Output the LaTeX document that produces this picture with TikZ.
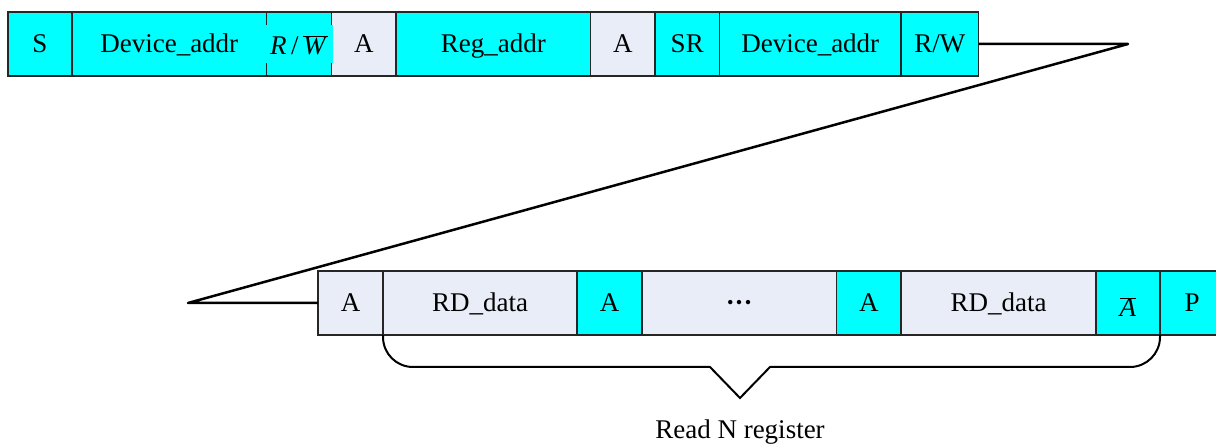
\documentclass[tikz,border=0pt]{standalone}
\usepackage{fontspec}
\setmainfont{Liberation Serif}
\definecolor{cyanc}{RGB}{0,255,255}
\definecolor{lightc}{RGB}{232,237,247}
\tikzset{
  txt/.style={font=\fontsize{27}{31}\selectfont},
  cell/.style={draw=black!85, line width=1.2pt, inner sep=0pt, outer sep=0pt,
    minimum height=64pt, txt, text height=18pt, text depth=0pt},
  cy/.style={cell, fill=cyanc},
  lt/.style={cell, fill=lightc},
  conn/.style={line width=2.5pt, line join=round},
  bracel/.style={line width=2pt, line join=miter}
}
\newcommand{\mkcell}[6]{%
  \pgfmathsetmacro{\cw}{#3-#2}%
  \pgfmathsetmacro{\cx}{(#2+#3)/2}%
  \node[#5, minimum width=\cw pt] (#1) at (\cx,#4) {#6};}
\begin{document}
\begin{tikzpicture}[x=1pt,y=-1pt]
\useasboundingbox (0,0) rectangle (1216,446);
% top row
\mkcell{s}{8}{72}{44}{cy}{S}
\mkcell{dev1}{72}{266.5}{44}{cy}{Device\_addr}
\mkcell{rwbar}{266.5}{331.5}{44}{cy}{}
\mkcell{a1}{331.5}{396}{44}{lt}{A}
\mkcell{reg}{396}{590.5}{44}{cy}{Reg\_addr}
\mkcell{a2}{590.5}{655}{44}{lt}{A}
\mkcell{sr}{655}{719.5}{44}{cy}{SR}
\mkcell{dev2}{719.5}{901}{44}{cy}{Device\_addr}
\mkcell{rw}{901}{978.5}{44}{cy}{R/W}
\node[fill=cyanc, inner sep=0pt, minimum width=67pt, minimum height=38pt,
  txt, text height=18pt, text depth=0pt] (rwtext) at (299,44)
  {\raisebox{-2pt}{\textit{R}\,/\,$\overline{\mbox{\textit{W}}}$}};
% bottom row
\mkcell{b1}{318}{383}{303}{lt}{A}
\mkcell{rd1}{383}{577}{303}{lt}{RD\_data}
\mkcell{b2}{577}{642}{303}{cy}{A}
\mkcell{dots}{642}{836.5}{303}{lt}{\textbf{\textperiodcentered\textperiodcentered\textperiodcentered}}
\mkcell{b3}{836.5}{901}{303}{cy}{A}
\mkcell{rd2}{901}{1096}{303}{lt}{RD\_data}
\mkcell{nabar}{1096}{1160}{303}{cy}{\raisebox{-5pt}{$\overline{\mbox{\textit{A}}}$}}
\mkcell{p}{1160}{1224}{303}{cy}{P}
% connector
\coordinate (c1) at (1128,44);
\coordinate (c2) at (188,303);
\draw[conn] (rw.east) -- (c1) -- (c2) -- (b1.west);
% brace
\draw[bracel] (rd1.south west) -- (383,337)
  .. controls (383,353.6) and (396.4,367) .. (413,367)
  -- (710,367) -- (740,398) -- (770,367) -- (1130,367)
  .. controls (1146.6,367) and (1160,353.6) .. (1160,337) -- (nabar.south east);
\node[txt, inner sep=0pt] (lbl) at (740,432) {Read N register};
\end{tikzpicture}
\end{document}
